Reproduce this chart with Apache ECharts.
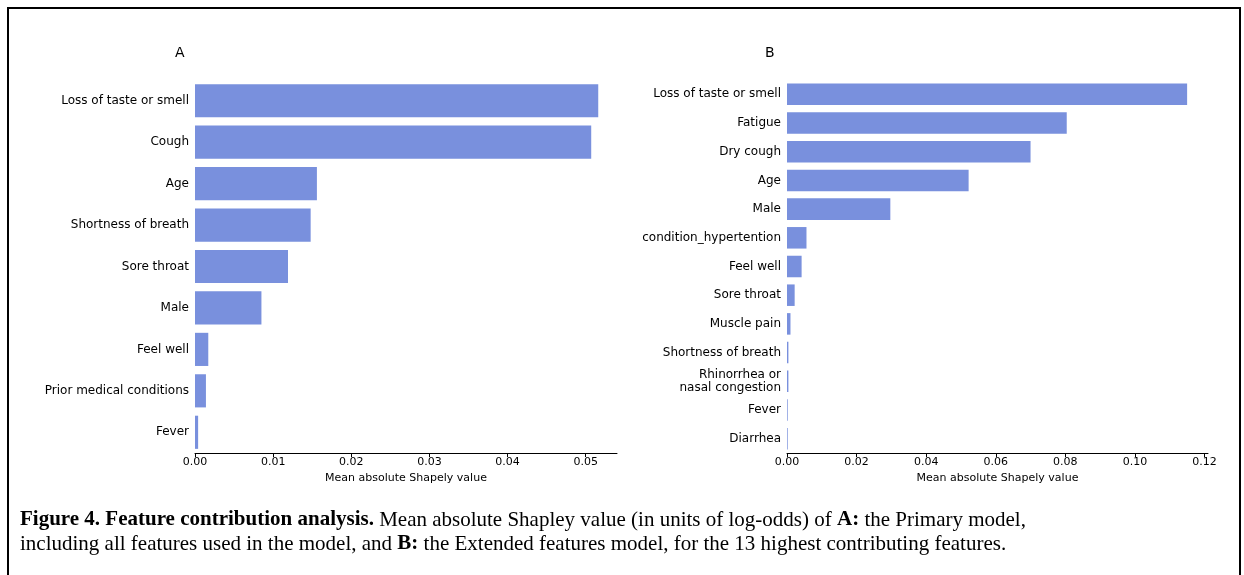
<!DOCTYPE html>
<html><head><meta charset="utf-8">
<script src="https://cdn.jsdelivr.net/npm/echarts@6/dist/echarts.min.js"></script>
<style>body{margin:0;background:#fff}#c{width:1244px;height:575px}</style>
</head><body><div id="c"></div>
<script>
// panel A: primary model
var catsA = ['Loss of taste or smell', 'Cough', 'Age', 'Shortness of breath', 'Sore throat', 'Male', 'Feel well', 'Prior medical conditions', 'Fever'];
var valsA = [0.0516, 0.0507, 0.0156, 0.0148, 0.0119, 0.0085, 0.0017, 0.0014, 0.0004];
// panel B: extended features model
var catsB = ['Loss of taste or smell', 'Fatigue', 'Dry cough', 'Age', 'Male', 'condition_hypertention', 'Feel well', 'Sore throat', 'Muscle pain', 'Shortness of breath', 'Rhinorrhea or\nnasal congestion', 'Fever', 'Diarrhea'];
var valsB = [0.1150, 0.0804, 0.0700, 0.0522, 0.0297, 0.0056, 0.0042, 0.0022, 0.0010, 0.0004, 0.0004, 0.0002, 0.0002];

var font = 'DejaVu Sans';
var barColor = '#7990dd';

function xAxisOpt(idx, max, interval) {
    return {
        gridIndex: idx, type: 'value', min: 0, max: max, interval: interval,
        name: 'Mean absolute Shapely value', nameLocation: 'middle', nameGap: 20,
        nameTextStyle: {fontFamily: font, fontSize: 11, color: '#000'},
        axisLine: {show: true, lineStyle: {color: '#000', width: 1}},
        axisTick: {show: true, length: 4, lineStyle: {color: '#000'}},
        axisLabel: {fontFamily: font, fontSize: 11, color: '#000', margin: 4, showMaxLabel: false,
            formatter: function (v) { return v.toFixed(2); }},
        splitLine: {show: false}
    };
}
function yAxisOpt(idx, cats, size) {
    return {
        gridIndex: idx, type: 'category', data: cats, inverse: true,
        axisLine: {show: false}, axisTick: {show: false},
        axisLabel: {fontFamily: font, fontSize: size, color: '#000', margin: 6, lineHeight: 13}
    };
}

var chart = echarts.init(document.getElementById('c'));
chart.setOption({
    animation: false,
    grid: [
        {left: 195, top: 80, width: 422, height: 373},
        {left: 787, top: 80, width: 421, height: 373}
    ],
    xAxis: [xAxisOpt(0, 0.054, 0.01), xAxisOpt(1, 0.121, 0.02)],
    yAxis: [yAxisOpt(0, catsA, 12), yAxisOpt(1, catsB, 12)],
    series: [
        {type: 'bar', xAxisIndex: 0, yAxisIndex: 0, data: valsA, barCategoryGap: '20%', itemStyle: {color: barColor}},
        {type: 'bar', xAxisIndex: 1, yAxisIndex: 1, data: valsB, barCategoryGap: '25%', itemStyle: {color: barColor}}
    ],
    graphic: [
        {type: 'polyline', shape: {points: [[8, 575], [8, 8], [1240, 8], [1240, 575]]}, style: {stroke: '#000', lineWidth: 2, fill: null}},
        {type: 'text', left: 175, top: 46, style: {text: 'A', font: '14px DejaVu Sans', fill: '#000'}},
        {type: 'text', left: 765, top: 46, style: {text: 'B', font: '14px DejaVu Sans', fill: '#000'}},
        {type: 'text', left: 20, top: 508, style: {
            rich: {b: {font: 'bold 21px Liberation Serif', fill: '#000'}, n: {font: '21px Liberation Serif', fill: '#000'}},
            text: '{b|Figure 4. Feature contribution analysis.}{n| Mean absolute Shapley value (in units of log-odds) of }{b|A:}{n| the Primary model,}\n{n|including all features used in the model, and }{b|B:}{n| the Extended features model, for the 13 highest contributing features.}',
            lineHeight: 24
        }}
    ]
});
</script></body></html>
